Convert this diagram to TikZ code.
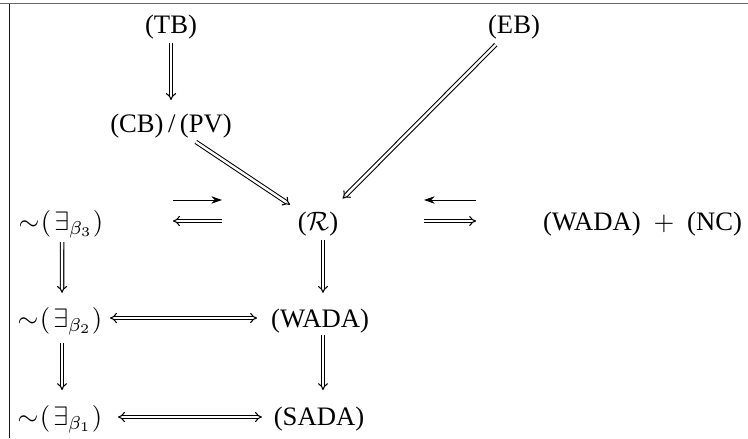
\documentclass[tikz,border=0pt]{standalone}
\usepackage{fontspec}
\setmainfont{Liberation Serif}
\usetikzlibrary{arrows.meta}
\newcommand{\notex}[1]{$\mathord{\sim}\mkern1mu(\mkern2mu\exists_{\beta_{#1}})$}
\tikzset{
  lbl/.style={inner sep=0pt, outer sep=0pt, text height=6.8pt, text depth=1.8pt, anchor=base, font=\fontsize{10}{12}\selectfont},
  dbl/.style={line width=0.4pt, double, double distance=0.9pt, -{Implies}},
  dblboth/.style={line width=0.4pt, double, double distance=0.9pt, {Implies}-{Implies}},
  sgl/.style={line width=0.35pt, -{Stealth[length=4pt,width=2.8pt]}},
}
\begin{document}
\begin{tikzpicture}[x=0.375pt,y=-0.375pt]
\useasboundingbox (0,0) rectangle (748,438);
% frame fragments
\draw[line width=0.55pt, gray!85!black] (0,3.5) -- (748,3.5);
\draw[line width=0.5pt, black!90] (9.5,3.5) -- (9.5,438);
% nodes
\node[lbl] (TB)  at (171,33)  {(TB)};
\node[lbl] (EB)  at (514,33)  {(EB)};
\node[lbl] (CB)  at (171,132) {(CB)\,/\,(PV)};
\node[lbl] (R)   at (318,230) {($\mathcal{R}$)};
\node[lbl] (b3)  at (61,230)  {\notex{3}};
\node[lbl] (WNC) at (642.5,230) {(WADA)\hspace{0.48em}$+$\hspace{0.48em}(NC)};
\node[lbl] (b2)  at (60,327)  {\notex{2}};
\node[lbl] (WADA) at (320,327) {(WADA)};
\node[lbl] (b1)  at (60,425)  {\notex{1}};
\node[lbl] (SADA) at (319,425) {(SADA)};
% connectors
\draw[dbl, shorten <=6.2pt, shorten >=9.5pt] (TB.center) -- (CB.center);
\draw[dbl, shorten <=11.2pt, shorten >=12.6pt] (CB.center) -- (R.center);
\draw[dbl, shorten <=9.7pt, shorten >=13.1pt] (EB.center) -- (R.center);
\draw[sgl, shorten <=42pt, shorten >=36pt] ([yshift=8.76pt]b3.center) -- ([yshift=8.76pt]R.center);
\draw[dbl, shorten <=36pt, shorten >=42pt] ([yshift=0.88pt]R.center) -- ([yshift=0.88pt]b3.center);
\draw[sgl, shorten <=62.4pt, shorten >=39.75pt] ([yshift=8.76pt]WNC.center) -- ([yshift=8.76pt]R.center);
\draw[dbl, shorten <=39.75pt, shorten >=62.4pt] ([yshift=0.88pt]R.center) -- ([yshift=0.88pt]WNC.center);
\draw[dbl, shorten <=7.0pt, shorten >=10.3pt] ([xshift=0.4pt]b3.center) -- ([xshift=0.75pt]b2.center);
\draw[dbl, shorten <=8.5pt, shorten >=10.6pt] ([xshift=0.75pt]b2.center) -- ([xshift=0.75pt]b1.center);
\draw[dbl, shorten <=6.2pt, shorten >=10.3pt] ([xshift=1.875pt]R.center) -- ([xshift=1.125pt]WADA.center);
\draw[dbl, shorten <=5.5pt, shorten >=10.6pt] ([xshift=1.125pt]WADA.center) -- ([xshift=1.5pt]SADA.center);
\draw[dblboth, shorten <=18.75pt, shorten >=23.6pt] ([yshift=0.88pt]b2.center) -- ([yshift=0.88pt]WADA.center);
\draw[dblboth, shorten <=21.75pt, shorten >=21.4pt] ([yshift=0.5pt]b1.center) -- ([yshift=0.5pt]SADA.center);
\end{tikzpicture}
\end{document}
